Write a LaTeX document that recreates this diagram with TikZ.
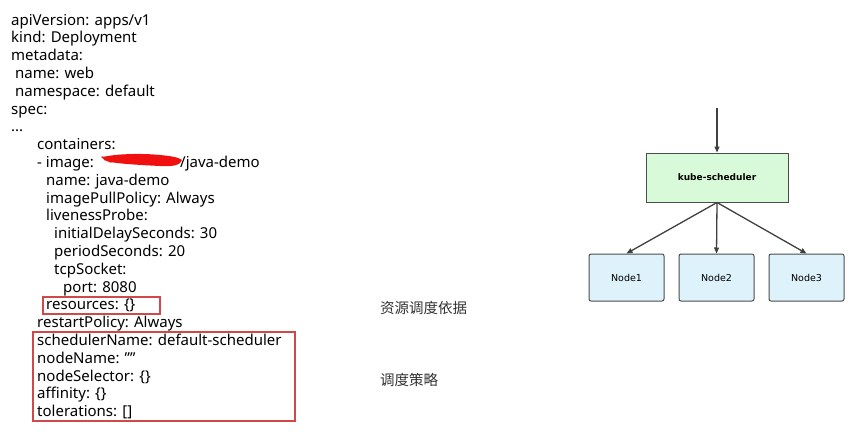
\documentclass[tikz,border=0pt]{standalone}
\usepackage{fontspec}
\setmainfont{Noto Sans}
\newfontfamily\cjk{Noto Sans CJK SC}
\newfontfamily\diagfont{DejaVu Sans}
\usetikzlibrary{arrows.meta}
\definecolor{boxred}{HTML}{D04848}
\definecolor{schedgreen}{HTML}{D8FAD8}
\definecolor{nodeblue}{HTML}{DDF2FB}
\definecolor{scrib}{HTML}{F01010}
\begin{document}
\begin{tikzpicture}[x=1pt,y=-1pt,
 yaml/.style={anchor=base west, inner sep=0pt, font=\fontsize{15}{18}\selectfont},
 note/.style={anchor=west, inner sep=0pt, font=\cjk\fontsize{14.5}{16}\selectfont, text=black!80},
 redbox/.style={draw=boxred, line width=1.2pt},
 sched/.style={draw=black!70, fill=schedgreen, line width=1pt, minimum width=142pt, minimum height=49pt, font=\diagfont\bfseries\fontsize{9}{10}\selectfont},
 nodebox/.style={draw=black!70, fill=nodeblue, rounded corners=2pt, line width=1pt, minimum width=75pt, minimum height=47pt, font=\diagfont\fontsize{9.5}{11}\selectfont},
 arr/.style={draw=black!75, line width=1.3pt, -{Triangle[length=6pt,width=5pt]}}]
\useasboundingbox (0,0) rectangle (864,431);
\fill[white] (0,0) rectangle (864,431);
% YAML text
\node[yaml] (l0)  at (11,25.0)  {apiVersion: apps/v1};
\node[yaml] (l1)  at (11,42.8)  {kind: Deployment};
\node[yaml] (l2)  at (11,60.6)  {metadata:};
\node[yaml] (l3)  at (15,78.4)  {name: web};
\node[yaml] (l4)  at (15,96.2)  {namespace: default};
\node[yaml] (l5)  at (11,114.0) {spec:};
\node[yaml] (l6)  at (11,131.8) {...};
\node[yaml] (l7)  at (37,149.6) {containers:};
\node[yaml] (l8)  at (37,167.4) {- image:};
\node[yaml] (l8b) at (180,167.4) {/java-demo};
\node[yaml] (l9)  at (46,185.2) {name: java-demo};
\node[yaml] (l10) at (46,203.0) {imagePullPolicy: Always};
\node[yaml] (l11) at (46,220.8) {livenessProbe:};
\node[yaml] (l12) at (54,238.6) {initialDelaySeconds: 30};
\node[yaml] (l13) at (54,256.4) {periodSeconds: 20};
\node[yaml] (l14) at (54,274.2) {tcpSocket:};
\node[yaml] (l15) at (63,292.0) {port: 8080};
\node[yaml] (l16) at (46,309.8) {resources: \{\}};
\node[yaml] (l17) at (37,327.6) {restartPolicy: Always};
\node[yaml] (l18) at (37,345.4) {schedulerName: default-scheduler};
\node[yaml] (l19) at (37,363.2) {nodeName: \symbol{34}\symbol{34}};
\node[yaml] (l20) at (37,381.0) {nodeSelector: \{\}};
\node[yaml] (l21) at (37,398.8) {affinity: \{\}};
\node[yaml] (l22) at (37,416.6) {tolerations: []};
% red scribble
\fill[scrib] (103,157) .. controls (115,154) and (140,153) .. (160,155)
  .. controls (170,156) and (178,157) .. (182,160)
  .. controls (181,165) and (172,167) .. (160,166)
  .. controls (140,165) and (122,164) .. (110,162)
  -- (104,160) -- cycle;
\draw[scrib, line width=1.5pt, line cap=round] (102,157) -- (111,162);
% red boxes
\draw[redbox] (43,297) rectangle (160,314);
\draw[redbox] (33,332) rectangle (295,421);
% notes
\node[note] (n1) at (380,308) {资源调度依据};
\node[note] (n2) at (380,380) {调度策略};
% diagram
\coordinate (top) at (717,108);
\node[sched] (ks) at (717,177.5) {kube-scheduler};
\node[nodebox] (a) at (626.5,277.5) {Node1};
\node[nodebox] (b) at (716.5,277.5) {Node2};
\node[nodebox] (c) at (806.5,277.5) {Node3};
\draw[arr] (top) -- (ks.north);
\draw[arr] (ks.south) -- (a.north);
\draw[arr] (ks.south) -- (b.north);
\draw[arr] (ks.south) -- (c.north);
\end{tikzpicture}
\end{document}
